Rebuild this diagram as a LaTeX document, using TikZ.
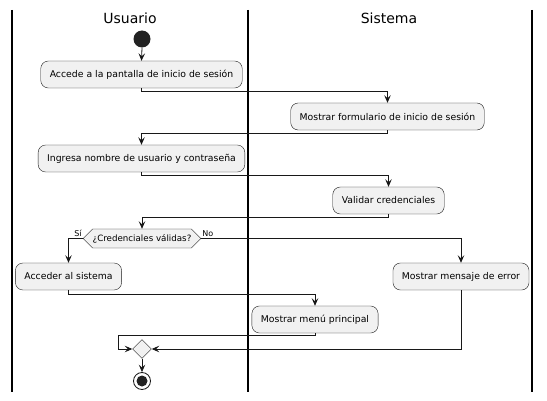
\documentclass[tikz,border=0pt]{standalone}
\usepackage{fontspec}
\setmainfont{DejaVu Sans}
\usetikzlibrary{arrows.meta,shapes.geometric,shapes.symbols}
\definecolor{boxfill}{HTML}{F1F1F1}
\definecolor{edge}{HTML}{181818}
\definecolor{startc}{HTML}{222222}
\begin{document}
\begin{tikzpicture}[x=1pt,y=-1pt,
  act/.style={draw=edge,fill=boxfill,rounded corners=7.5pt,line width=0.4pt,minimum height=27pt,inner xsep=9pt,inner ysep=0pt,font=\fontsize{9.3}{11}\selectfont},
  flow/.style={draw=edge,line width=0.8pt,-{Stealth[length=7.5pt,width=6.5pt,inset=3pt]}},
  lane/.style={line width=1.1pt,draw=black},
  title/.style={font=\fontsize{14}{16}\selectfont},
  lbl/.style={font=\fontsize{8}{9}\selectfont,inner sep=1pt},
  decision/.style={signal,signal to=west and east,signal pointer angle=90,draw=edge,fill=boxfill,line width=0.4pt,minimum height=19pt,inner xsep=0pt,inner ysep=0pt,font=\fontsize{8.7}{10}\selectfont},
  merge/.style={diamond,draw=edge,fill=boxfill,line width=0.4pt,minimum width=19pt,minimum height=19pt,inner sep=0pt}]
\useasboundingbox (0,0) rectangle (547,401);
% swimlanes
\draw[lane] (12,10) -- (12,392);
\draw[lane] (248,10) -- (248,392);
\draw[lane] (532,10) -- (532,392);
\node[title] (tu) at (130,18) {Usuario};
\node[title] (ts) at (389,18) {Sistema};
% nodes
\node[circle,fill=startc,minimum size=17pt,inner sep=0pt] (start) at (142,39) {};
\node[act] (b1) at (141.5,74.5) {Accede a la pantalla de inicio de sesión};
\node[act] (b2) at (387.5,116.5) {Mostrar formulario de inicio de sesión};
\node[act] (b3) at (141.5,158.5) {Ingresa nombre de usuario y contraseña};
\node[act] (b4) at (388.5,200.5) {Validar credenciales};
\node[decision] (dec) at (142,238.5) {¿Credenciales válidas?};
\node[lbl,anchor=south east] (si) at ([yshift=1pt]dec.west) {Sí};
\node[lbl,anchor=south west] (no) at ([yshift=1pt]dec.east) {No};
\node[act] (b5) at (68.5,276.5) {Acceder al sistema};
\node[act] (b6) at (461,276.5) {Mostrar mensaje de error};
\node[act] (b7) at (315,319.5) {Mostrar menú principal};
\node[merge] (m) at (142,349) {};
\node[circle,draw=edge,line width=0.8pt,fill=white,minimum size=17pt,inner sep=0pt] (end) at (142,381) {};
\fill[startc] (end.center) circle (5.5);
\coordinate (c1) at (118,349);
% connectors
\draw[flow] (start.south) -- (b1.north);
\draw[flow] (b1.south) -- ++(0,3) -| (b2.north);
\draw[flow] (b2.south) -- ++(0,3) -| (b3.north);
\draw[flow] (b3.south) -- ++(0,3) -| (b4.north);
\draw[flow] (b4.south) -- ++(0,3) -| (dec.north);
\draw[flow] (dec.west) -| (b5.north);
\draw[flow] (dec.east) -| (b6.north);
\draw[flow] (b5.south) -- ++(0,4) -| (b7.north);
\draw[flow] (b7.south) -- ++(0,2.5) -| (c1) -- (m.west);
\draw[flow] (b6.south) |- (m.east);
\draw[flow] (m.south) -- (end.north);
\end{tikzpicture}
\end{document}
